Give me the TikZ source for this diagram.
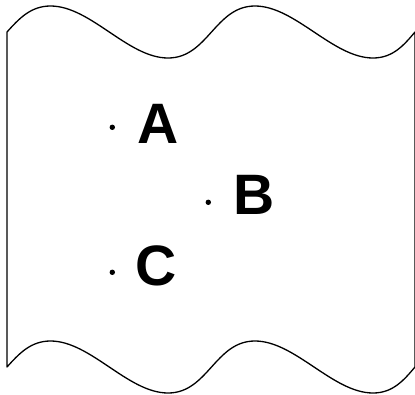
\documentclass[tikz,border=0pt]{standalone}
\usepackage{fontspec}
\setmainfont{Liberation Sans}
\usepackage{tikz}

\begin{document}
\begin{tikzpicture}[
  x=1pt,y=-1pt,
  sheet/.style={draw=black,line width=1.3pt,line join=round},
  spot/.style={circle,fill=black,inner sep=0pt,minimum size=5.4pt},
  letter/.style={anchor=base,inner sep=0pt,font=\fontsize{57}{60}\selectfont\bfseries}
]
\useasboundingbox (0,0) rectangle (415,394);
% wavy sheet
\draw[sheet] (7,32) .. controls (18.75,19) and (30.5,6) .. (50.5,6)
  .. controls (90.5,6) and (128,58) .. (168,58)
  .. controls (208,58) and (215,6) .. (255,6)
  .. controls (295,6) and (333,58) .. (373,58)
  .. controls (393,58) and (404,45) .. (415,32)
  -- (415,367)
  .. controls (404,380) and (393,393) .. (373,393)
  .. controls (333,393) and (295,341) .. (255,341)
  .. controls (215,341) and (208,393) .. (168,393)
  .. controls (128,393) and (90.5,341) .. (50.5,341)
  .. controls (30.5,341) and (18.75,354) .. (7,367) -- cycle;
% points
\node[spot] (pa) at (112.3,127.3) {};
\node[spot] (pb) at (208.3,202.3) {};
\node[spot] (pc) at (112.3,272.3) {};
\node[letter] (la) at (158.5,143.5) {A};
\node[letter] (lb) at (254,214.3) {B};
\node[letter] (lc) at (156,285) {C};
\end{tikzpicture}
\end{document}
